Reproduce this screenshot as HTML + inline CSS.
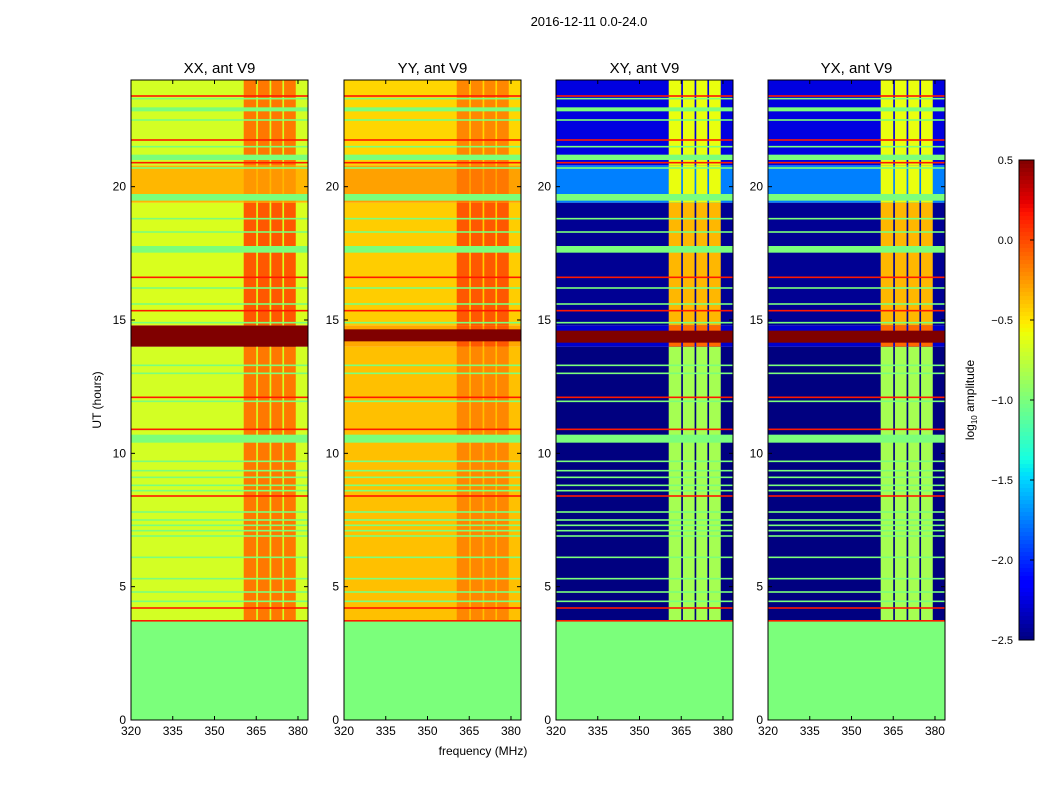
<!DOCTYPE html>
<html><head><meta charset="utf-8"><style>
body{margin:0;background:#fff;}
svg{display:block;font-family:"Liberation Sans",sans-serif;}
</style></head><body>
<svg id="fig" width="1050" height="800" viewBox="0 0 1050 800">
<text x="589" y="26" font-size="13" text-anchor="middle">2016-12-11 0.0-24.0</text>
<text x="483" y="755" font-size="12" text-anchor="middle">frequency (MHz)</text>
<text x="101" y="400" font-size="12" text-anchor="middle" transform="rotate(-90 101 400)">UT (hours)</text>
<text x="974" y="400" font-size="12" text-anchor="middle" transform="rotate(-90 974 400)">log<tspan font-size="8" dy="3">10</tspan><tspan dy="-3"> amplitude</tspan></text>
</svg>
<script>
// ---- data ----
const panelTitles=["XX, ant V9","YY, ant V9","XY, ant V9","YX, ant V9"];
const xTicks=[320,335,350,365,380];
const yTicks=[0,5,10,15,20];
const cbTicks=[0.5,0.0,-0.5,-1.0,-1.5,-2.0,-2.5];
const cbTickLabels=["0.5","0.0","\u22120.5","\u22121.0","\u22121.5","\u22122.0","\u22122.5"];
const rfiBands=[[360.5,365.0],[365.6,369.8],[370.4,374.4],[375.0,379.2]];
// time segments: [t0,t1]
const segTimes=[[0,3.7],[3.7,14.0],[14.0,14.8],[14.8,19.4],[19.4,20.8],[20.8,24]];
const baseXX=[-1.0,-0.68,0.5,-0.66,-0.35,-0.68];
const baseYY=[-1.0,-0.38,-0.3,-0.42,-0.28,-0.45];
const baseXY=[-1.0,-2.5,-2.3,-2.45,-1.75,-2.25];
const bandXX=[-1.0,-0.15,0.5,-0.05,-0.25,-0.15];
const bandYY=[-1.0,-0.2,-0.05,-0.05,-0.15,-0.2];
const bandXY=[-1.0,-0.85,-0.1,-0.35,-0.6,-0.6];
const greenLines=[4.45,4.8,5.3,6.1,6.9,7.1,7.3,7.5,7.8,8.6,8.8,9.1,9.35,9.7,10.55,11.95,13.0,13.3,14.9,15.6,16.2,17.65,18.3,18.8,19.6,20.7,21.1,21.5,22.5,22.9,23.3];
const greenWidths=[0.06,0.06,0.06,0.06,0.06,0.06,0.06,0.06,0.06,0.06,0.06,0.06,0.06,0.06,0.3,0.06,0.06,0.06,0.06,0.06,0.06,0.25,0.06,0.06,0.25,0.06,0.2,0.06,0.06,0.15,0.06];
const redLines=[3.72,4.2,8.4,10.9,12.1,15.35,16.6,20.9,21.75,23.4];
const darkBandYY=[14.2,14.65];
const darkBandXY=[14.15,14.6];
// ---- layout ----
const panelX=[131,344,556,768], pw=177, py0=80, py1=720;
const fMin=320, fMax=383.6, tMax=24;
const NS="http://www.w3.org/2000/svg";
const svg=document.getElementById('fig');
function jet(v){let t=(v+2.5)/3;t=Math.max(0,Math.min(1,t));
 function ip(p,x){for(let i=1;i<p.length;i++){if(x<=p[i][0]){const a=p[i-1],b=p[i];return a[1]+(b[1]-a[1])*(x-a[0])/(b[0]-a[0]);}}return p[p.length-1][1];}
 const r=ip([[0,0],[0.35,0],[0.66,1],[0.89,1],[1,0.5]],t),g=ip([[0,0],[0.125,0],[0.375,1],[0.64,1],[0.91,0],[1,0]],t),b=ip([[0,0.5],[0.11,1],[0.34,1],[0.65,0],[1,0]],t);
 return `rgb(${Math.round(r*255)},${Math.round(g*255)},${Math.round(b*255)})`;}
function mk(tag,attrs,parent){const e=document.createElementNS(NS,tag);for(const k in attrs)e.setAttribute(k,attrs[k]);(parent||svg).appendChild(e);return e;}
function xs(p,f){return panelX[p]+(f-fMin)/(fMax-fMin)*pw;}
function ys(t){return py1-t/tMax*(py1-py0);}
const bases=[baseXX,baseYY,baseXY,baseXY], bands=[bandXX,bandYY,bandXY,bandXY];
const darks=[null,darkBandYY,darkBandXY,darkBandXY];
for(let p=0;p<4;p++){
 const g=mk('g',{});
 
 
 segTimes.forEach((s,i)=>{
  const r=mk('rect',{x:xs(p,fMin),y:ys(s[1]),width:pw,height:ys(s[0])-ys(s[1]),fill:jet(bases[p][i])},g);
  
  
  if(i>0) rfiBands.forEach(b=>{
   const c=mk('rect',{x:xs(p,b[0]),y:ys(s[1]),width:xs(p,b[1])-xs(p,b[0]),height:ys(s[0])-ys(s[1]),fill:jet(bands[p][i])},g);
   
   
  });
 });
 if(darks[p]){const db=darks[p];const d=mk('rect',{x:xs(p,fMin),y:ys(db[1]),width:pw,height:ys(db[0])-ys(db[1]),fill:jet(0.5)},g);
  }
 greenLines.forEach((t,i)=>{const w=greenWidths[i];
  const l=mk('rect',{x:xs(p,fMin),y:ys(t+w/2),width:pw,height:ys(t-w/2)-ys(t+w/2),fill:jet(-1.0)},g);
  });
 redLines.forEach(t=>{
  const l=mk('rect',{x:xs(p,fMin),y:ys(t+0.03),width:pw,height:ys(t-0.03)-ys(t+0.03),fill:jet(0.15)},g);
  });
 const fr=mk('rect',{x:panelX[p],y:py0,width:pw,height:py1-py0,fill:'none',stroke:'#000','stroke-width':1},g);
 
 const ti=mk('text',{x:panelX[p]+pw/2,y:73,'font-size':15,'text-anchor':'middle'},g);ti.textContent=panelTitles[p];
 
 xTicks.forEach(f=>{const x=xs(p,f);
  mk('line',{x1:x,x2:x,y1:py1,y2:py1-4,stroke:'#000'},g);mk('line',{x1:x,x2:x,y1:py0,y2:py0+4,stroke:'#000'},g);
  const t=mk('text',{x:x,y:py1+15,'font-size':12,'text-anchor':'middle'},g);t.textContent=f;
  });
 yTicks.forEach(v=>{const y=ys(v);
  mk('line',{x1:panelX[p],x2:panelX[p]+4,y1:y,y2:y,stroke:'#000'},g);mk('line',{x1:panelX[p]+pw,x2:panelX[p]+pw-4,y1:y,y2:y,stroke:'#000'},g);
  const t=mk('text',{x:panelX[p]-5,y:y+4,'font-size':12,'text-anchor':'end'},g);t.textContent=v;
  });
}
// colorbar
const cb=mk('g',{});


const cbx=1019,cbw=15,cby0=160,cby1=640;
for(let i=0;i<120;i++){const v=0.5-3*(i+0.5)/120;
 mk('rect',{x:cbx,y:cby0+i*4,width:cbw,height:4.5,fill:jet(v)},cb);}
mk('rect',{x:cbx,y:cby0,width:cbw,height:cby1-cby0,fill:'none',stroke:'#000'},cb);
cbTicks.forEach((v,i)=>{const y=cby0+(0.5-v)/3*(cby1-cby0);
 mk('line',{x1:cbx+cbw-4,x2:cbx+cbw,y1:y,y2:y,stroke:'#000'},cb);
 const t=mk('text',{x:1013,y:y+4,'font-size':11,'text-anchor':'end'},cb);t.textContent=cbTickLabels[i];
 });
</script>
</body></html>
